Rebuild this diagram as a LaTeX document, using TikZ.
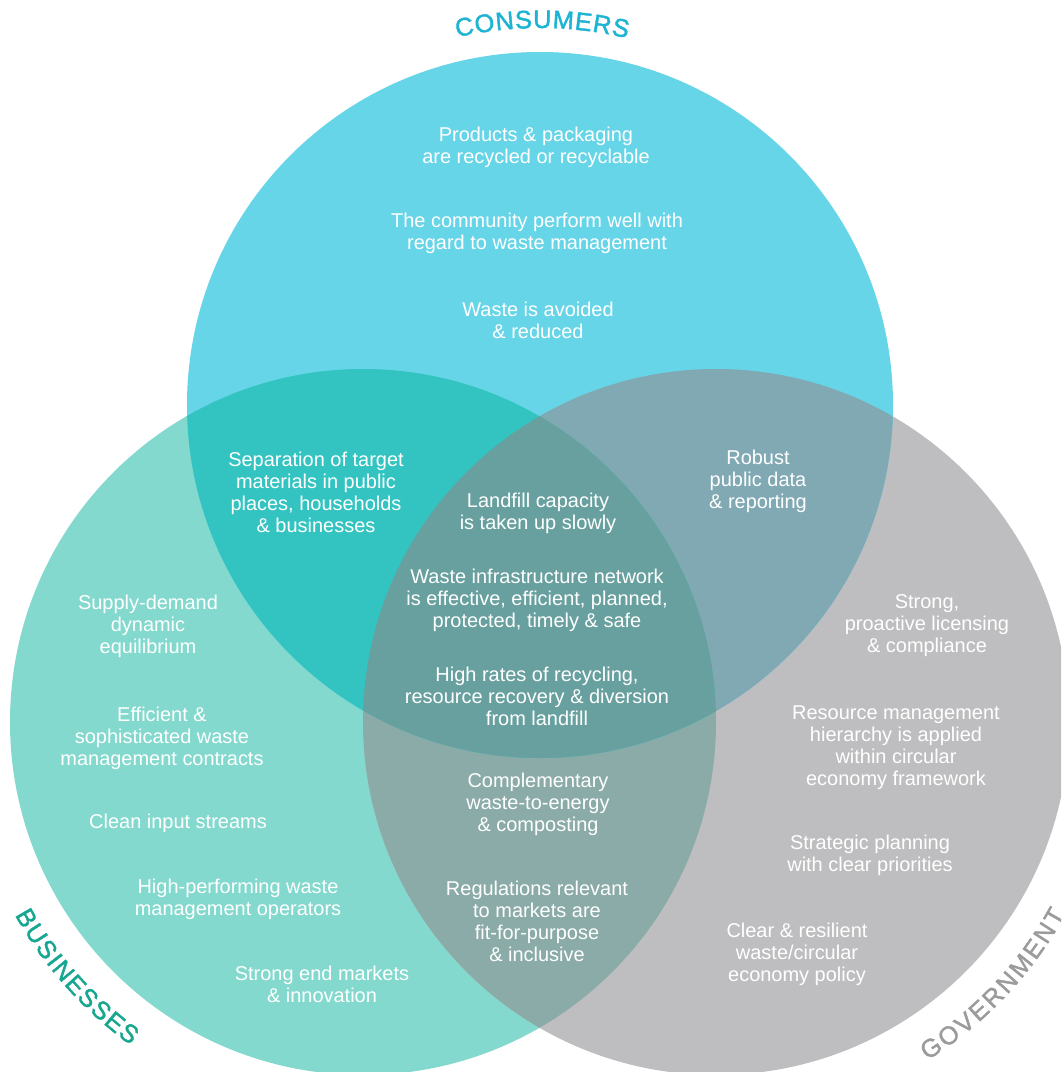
\documentclass[tikz,border=0pt]{standalone}
\usepackage{fontspec}
\setmainfont{Liberation Sans}
\newfontfamily\vennTitleFont{Liberation Sans}[FakeBold=1.6]
\usepackage{xcolor}
\usepackage{tikz}
\usetikzlibrary{decorations.text}

\definecolor{consCol}{HTML}{67D5E8}
\definecolor{busCol}{HTML}{83D9CD}
\definecolor{govCol}{HTML}{BEBEC0}
\definecolor{consBusCol}{HTML}{33C4C1}
\definecolor{consGovCol}{HTML}{80A9B4}
\definecolor{busGovCol}{HTML}{8AABA8}
\definecolor{allCol}{HTML}{67A09E}
\definecolor{consTitle}{HTML}{1CB4D2}
\definecolor{busTitle}{HTML}{17A68F}
\definecolor{govTitle}{HTML}{9B9B9D}

\newcommand{\vennTitle}{\vennTitleFont\fontsize{18}{21}\selectfont}

\begin{document}
\begin{tikzpicture}[x=0.025cm, y=-0.025cm,
        venn/.style={align=center, text=white, inner sep=0pt,
            font=\fontsize{14.2}{15.65}\selectfont}]
    \useasboundingbox (0,0) rectangle (1061,1072);
    \fill[white] (0,0) rectangle (1061,1072);
    \clip (0,0) rectangle (1061,1072);

    \coordinate (C) at (540,405);
    \coordinate (B) at (363,722);
    \coordinate (G) at (716,722);

    % the three circles
    \fill[busCol] (B) circle (353);
    \fill[govCol] (G) circle (353);
    \fill[consCol] (C) circle (353);
    \begin{scope}
        \clip (G) circle (353);
        \fill[consGovCol] (C) circle (353);
    \end{scope}
    \begin{scope}
        \clip (B) circle (353);
        \fill[busGovCol] (G) circle (353);
        \fill[consBusCol] (C) circle (353);
        \clip (G) circle (353);
        \fill[allCol] (C) circle (353);
    \end{scope}

    % titles
    \path[decorate, decoration={text along path, text align={fit to path},
        text color=consTitle, text={|\vennTitle|CONSUMERS}}]
        (C) ++(-102.7:377) arc (-102.7:-76.6:377);
    \path[decorate, decoration={text along path, text align={fit to path},
        text color=busTitle, text={|\vennTitle|BUSINESSES}}]
        (B) ++(-209:398) arc (-209:-234.3:398);
    \path[decorate, decoration={text along path, text align={fit to path},
        text color=govTitle, text={|\vennTitle|GOVERNMENT}}]
        (G) ++(58:399) arc (58:28.8:399);

    % consumers
    \node[venn] (cons1) at (536,147) {Products \& packaging\\are recycled or recyclable};
    \node[venn] (cons2) at (537,233) {The community perform well with\\regard to waste management};
    \node[venn] (cons3) at (538,320) {Waste is avoided\\\& reduced};
    \node[venn] (consbus) at (316,492) {Separation of target\\materials in public\\places, households\\\& businesses};
    \node[venn] (consgov) at (758,481) {Robust\\public data\\\& reporting};

    % middle
    \node[venn] (all1) at (538,513) {Landfill capacity\\is taken up slowly};
    \node[venn] (all2) at (537,600) {Waste infrastructure network\\is effective, efficient, planned,\\protected, timely \& safe};
    \node[venn] (all3) at (537,696) {High rates of recycling,\\resource recovery \& diversion\\from landfill};
    \node[venn] (busgov1) at (538,804) {Complementary\\waste-to-energy\\\& composting};
    \node[venn] (busgov2) at (537,921) {Regulations relevant\\to markets are\\fit-for-purpose\\\& inclusive};

    % businesses
    \node[venn] (bus1) at (148,626) {Supply-demand\\dynamic\\equilibrium};
    \node[venn] (bus2) at (162,738) {Efficient \&\\sophisticated waste\\management contracts};
    \node[venn] (bus3) at (178,823) {Clean input streams};
    \node[venn] (bus4) at (238,899) {High-performing waste\\management operators};
    \node[venn] (bus5) at (322,984) {Strong end markets\\\& innovation};

    % government
    \node[venn] (gov1) at (927,626) {Strong,\\proactive licensing\\\& compliance};
    \node[venn] (gov2) at (896,748) {Resource management\\hierarchy is applied\\within circular\\economy framework};
    \node[venn] (gov3) at (870,855) {Strategic planning\\with clear priorities};
    \node[venn] (gov4) at (797,954) {Clear \& resilient\\waste/circular\\economy policy};
\end{tikzpicture}
\end{document}
